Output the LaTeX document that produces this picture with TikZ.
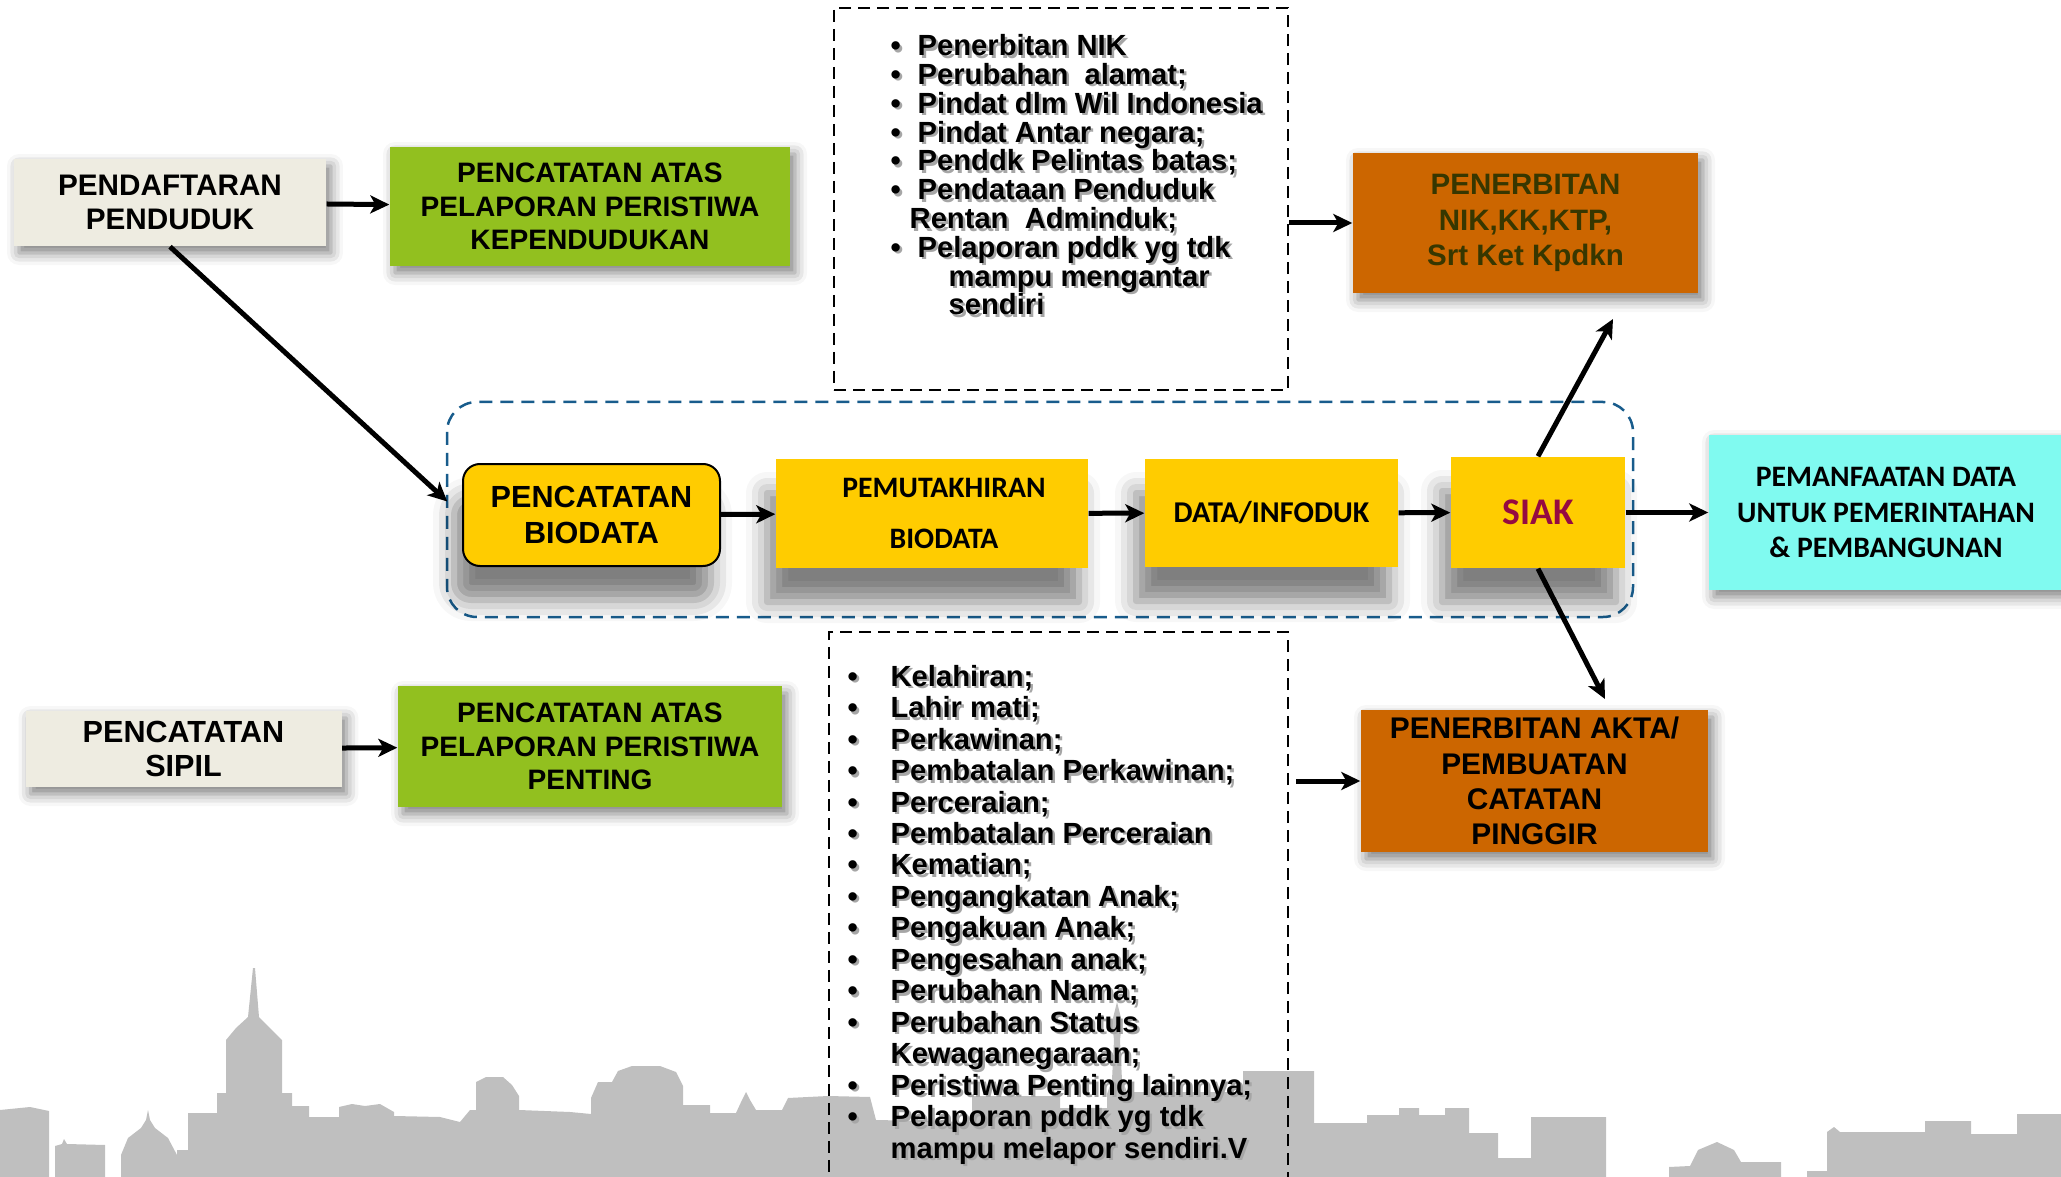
\documentclass[tikz,border=0pt]{standalone}
\usepackage{fontspec}
\setmainfont{Liberation Sans}
\newfontfamily\calibri{Carlito}
\usetikzlibrary{arrows.meta,shadows.blur}

\definecolor{beige}{RGB}{238,236,225}
\definecolor{hijau}{RGB}{146,192,31}
\definecolor{oranye}{RGB}{204,102,0}
\definecolor{kuning}{RGB}{255,204,0}
\definecolor{toska}{RGB}{128,250,240}
\definecolor{zaitun}{RGB}{55,55,0}
\definecolor{merah}{RGB}{150,10,65}
\definecolor{garis}{RGB}{24,92,140}
\definecolor{kota}{RGB}{191,191,191}

\newcommand{\fsz}[2]{\fontsize{#1}{#2}\selectfont\bfseries}
\newcommand{\itm}{\makebox[2.7mm][l]{\textbullet}}
\newcommand{\itmb}{\makebox[4.3mm][l]{\textbullet}}

% list contents, set twice (shadow + text)
\newcommand{\nikisi}{%
  \itm Penerbitan NIK\\
  \itm Perubahan\ \ alamat;\\
  \itm Pindat dlm Wil Indonesia\\
  \itm Pindat Antar negara;\\
  \itm Penddk Pelintas batas;\\
  \itm Pendataan Penduduk\\
  \hspace*{1.9mm}Rentan\ \ Adminduk;\\
  \itm Pelaporan pddk yg tdk\\
  \hspace*{5.8mm}mampu mengantar\\
  \hspace*{5.8mm}sendiri}
\newcommand{\pentisi}{%
  \itmb Kelahiran;\\
  \itmb Lahir mati;\\
  \itmb Perkawinan;\\
  \itmb Pembatalan Perkawinan;\\
  \itmb Perceraian;\\
  \itmb Pembatalan Perceraian\\
  \itmb Kematian;\\
  \itmb Pengangkatan Anak;\\
  \itmb Pengakuan Anak;\\
  \itmb Pengesahan anak;\\
  \itmb Perubahan Nama;\\
  \itmb Perubahan Status\\
  \hspace*{4.3mm}Kewaganegaraan;\\
  \itmb Peristiwa Penting lainnya;\\
  \itmb Pelaporan pddk yg tdk\\
  \hspace*{4.3mm}mampu melapor sendiri.V}

\begin{document}
\begin{tikzpicture}[x=0.1mm, y=-0.1mm,
  box/.style={inner sep=0pt, align=center,
    blur shadow={shadow xshift=0.5mm, shadow yshift=-0.7mm, shadow blur radius=1.2mm, shadow opacity=50}},
  flowbox/.style={inner sep=0pt, align=center, fill=kuning,
    blur shadow={shadow xshift=-0.9mm, shadow yshift=-3.4mm, shadow blur radius=2.1mm, shadow opacity=50}},
  listframe/.style={draw, line width=0.2mm, dash pattern=on 1.2mm off 0.7mm, inner sep=0pt},
  items/.style={anchor=base west, inner sep=0pt, align=left},
  itemshade/.style={items, text=black!35},
  conn/.style={-{Stealth[length=1.9mm,width=1.8mm,inset=0.5mm]}, line width=0.5mm}]
  \useasboundingbox (0,0) rectangle (2061,1177);

  % skyline along the bottom
  \fill[kota] (0,1177) -- (0,1110) -- (30,1107) -- (49,1111) -- (49,1177) -- (55,1177) -- (55,1146)
    -- (62,1144) -- (64,1139) -- (67,1144) -- (105,1145) -- (105,1177) -- (121,1177) -- (121,1155)
    -- (128,1138) -- (141,1128) -- (146,1120) -- (148,1110) -- (150,1120) -- (155,1128) -- (168,1138)
    -- (177,1155) -- (177,1150) -- (188,1150) -- (188,1113) -- (217,1113) -- (217,1093) -- (226,1093)
    -- (226,1040) -- (236,1028) -- (248,1017) -- (253,968) -- (255,968) -- (259,1017) -- (270,1028)
    -- (282,1040) -- (282,1093) -- (292,1093) -- (292,1106) -- (309,1106) -- (309,1117) -- (339,1117)
    -- (339,1107) -- (352,1104) -- (365,1106) -- (380,1104) -- (394,1112) -- (394,1116) -- (440,1117)
    -- (460,1122) -- (470,1110) -- (476,1110) -- (476,1082) -- (486,1077) -- (503,1077) -- (512,1085)
    -- (519,1096) -- (519,1110) -- (570,1112) -- (591,1114) -- (591,1098) -- (598,1082) -- (612,1082)
    -- (618,1071) -- (632,1066) -- (660,1066) -- (676,1072) -- (683,1086) -- (683,1105) -- (710,1105)
    -- (710,1113) -- (736,1113) -- (742,1100) -- (746,1092) -- (750,1100) -- (756,1110) -- (782,1110)
    -- (788,1098) -- (828,1096) -- (870,1097) -- (876,1120) -- (972,1122) -- (972,1096) -- (1060,1096)
    -- (1060,1108) -- (1107,1108) -- (1107,1094) -- (1112,1080) -- (1114,1040) -- (1112,1022)
    -- (1117,1002) -- (1122,1022) -- (1120,1040) -- (1122,1080) -- (1127,1092) -- (1243,1092)
    -- (1243,1071) -- (1314,1071) -- (1314,1123) -- (1367,1123) -- (1367,1115) -- (1399,1115)
    -- (1399,1108) -- (1419,1108) -- (1419,1115) -- (1445,1115) -- (1445,1108) -- (1469,1108)
    -- (1469,1133) -- (1498,1133) -- (1498,1158) -- (1531,1158) -- (1531,1117) -- (1606,1117)
    -- (1606,1177) -- (1669,1177) -- (1669,1167) -- (1690,1166) -- (1698,1150) -- (1717,1142)
    -- (1734,1150) -- (1741,1162) -- (1781,1162) -- (1781,1177) -- (1807,1177) -- (1807,1171)
    -- (1827,1171) -- (1827,1132) -- (1834,1127) -- (1840,1132) -- (1925,1132) -- (1925,1121)
    -- (1971,1121) -- (1971,1134) -- (2017,1134) -- (2017,1114) -- (2061,1114) -- (2061,1177) -- cycle;

  % SIAK process frame
  \draw[garis, line width=0.25mm, dash pattern=on 1.3mm off 0.8mm, rounded corners=3mm]
    (447,402) rectangle (1633,617);

  % event lists (anchored on the baseline of their last line)
  \node[listframe, minimum width=45.4mm, minimum height=38.2mm] (nikframe) at (1061,199) {};
  \node[listframe, minimum width=45.9mm, minimum height=56.8mm] (pentframe) at (1058.5,916) {};
  \node[itemshade, font=\fsz{8.3}{8.2}] (nikshade) at (892.5,317.5) {\nikisi};
  \node[items, font=\fsz{8.3}{8.2}] (nikitems) at (890,315) {\nikisi};
  \node[itemshade, font=\fsz{8.3}{8.95}] (pentshade) at (849.5,1160.5) {\pentisi};
  \node[items, font=\fsz{8.3}{8.95}] (pentitems) at (847,1158) {\pentisi};

  % boxes
  \node[box, fill=beige, minimum width=31.2mm, minimum height=8.7mm, font=\fsz{8.45}{9.7}] (daftar) at (170,202.5) {PENDAFTARAN\\PENDUDUK};
  \node[box, fill=hijau, minimum width=40mm, minimum height=11.9mm, font=\fsz{8}{9.5}] (catduk) at (590,206.5) {PENCATATAN ATAS\\PELAPORAN PERISTIWA\\KEPENDUDUKAN};
  \node[box, fill=oranye, text=zaitun, minimum width=34.5mm, minimum height=14mm, font=\fsz{8.4}{10.1}] (nik) at (1525.5,223) {PENERBITAN\\NIK,KK,KTP,\\Srt Ket Kpdkn};
  \node[flowbox, draw, line width=0.2mm, rounded corners=1.7mm, minimum width=25.7mm, minimum height=10.2mm, font=\fsz{8.7}{10}] (biodata) at (591.5,515) {PENCATATAN\\BIODATA};
  \node[flowbox, minimum width=31.2mm, minimum height=10.9mm, font=\calibri\fsz{8.45}{14.5}] (mutakhir) at (932,513.5) {\hspace*{2.4mm}PEMUTAKHIRAN\\\hspace*{2.4mm}BIODATA};
  \node[flowbox, minimum width=25.3mm, minimum height=10.8mm, font=\calibri\fsz{8.6}{10}] (infoduk) at (1271.5,513) {DATA/INFODUK};
  \node[flowbox, text=merah, minimum width=17.4mm, minimum height=11.1mm, font=\calibri\fsz{10.7}{12}] (siak) at (1538,512.5) {SIAK};
  \node[box, fill=toska, minimum width=35.4mm, minimum height=15.5mm, font=\calibri\fsz{8.45}{10.2}] (manfaat) at (1886,512.5) {PEMANFAATAN DATA\\UNTUK PEMERINTAHAN\\\& PEMBANGUNAN};
  \node[box, fill=beige, minimum width=31.6mm, minimum height=7.6mm, font=\fsz{8.7}{9.7}] (sipil) at (183.5,749) {PENCATATAN\\SIPIL};
  \node[box, fill=hijau, minimum width=38.4mm, minimum height=12.1mm, font=\fsz{8}{9.5}] (catpenting) at (590,746.5) {PENCATATAN ATAS\\PELAPORAN PERISTIWA\\PENTING};
  \node[box, fill=oranye, minimum width=34.7mm, minimum height=14.2mm, font=\fsz{8.5}{10}] (akta) at (1534.5,781) {PENERBITAN AKTA/\\PEMBUATAN\\CATATAN\\PINGGIR};

  \coordinate (nikend) at (1613,319);
  \coordinate (aktaend) at (1605,699);

  % connectors
  \draw[conn] (daftar) -- (catduk);
  \draw[conn, shorten >=2mm] (daftar.south) -- (biodata.west);
  \draw[conn] (biodata) -- (mutakhir);
  \draw[conn] (mutakhir) -- (infoduk);
  \draw[conn] (infoduk) -- (siak);
  \draw[conn] (siak) -- (manfaat);
  \draw[conn] (siak.north) -- (nikend);
  \draw[conn] (siak.south) -- (aktaend);
  \draw[conn] (nikframe.east |- nik.west) -- (nik.west);
  \draw[conn, shorten <=0.7mm] (pentframe.east |- akta.west) -- (akta.west);
  \draw[conn] (sipil) -- (catpenting);
\end{tikzpicture}
\end{document}
